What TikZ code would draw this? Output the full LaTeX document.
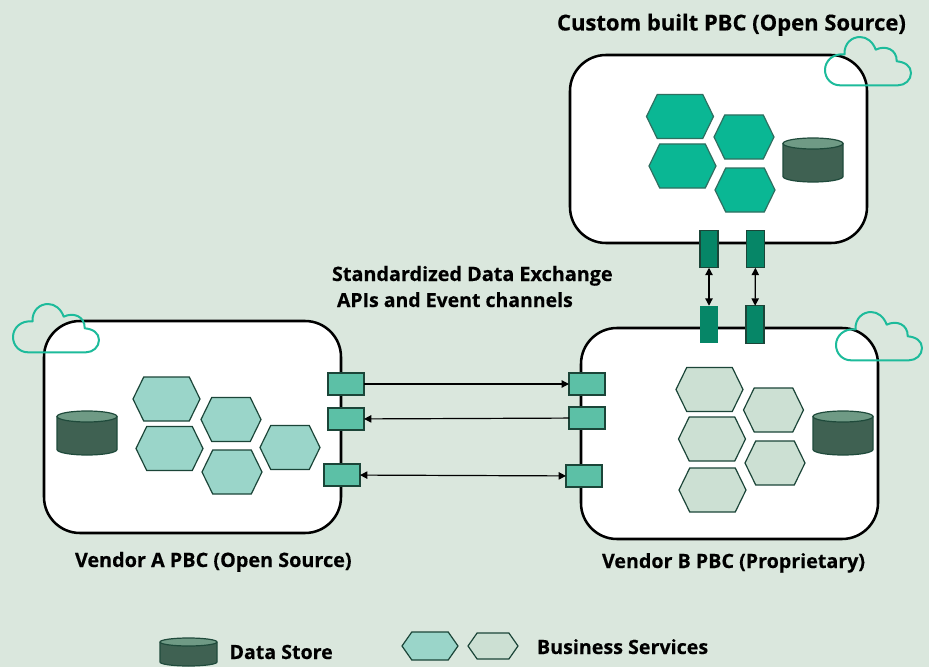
\documentclass[tikz,border=0pt]{standalone}
\usepackage{fontspec}
\setmainfont{Open Sans}[BoldFeatures={FakeBold=0.35}]
\usetikzlibrary{shapes.symbols,arrows.meta}
\definecolor{bgc}{HTML}{DAE7DD}
\definecolor{hexA}{HTML}{0AB794}
\definecolor{hexB}{HTML}{9AD5C9}
\definecolor{hexC}{HTML}{CCE0D3}
\definecolor{edgeA}{HTML}{2F6F60}
\definecolor{edgeB}{HTML}{1B4538}
\definecolor{cylbody}{HTML}{3F6152}
\definecolor{cyltop}{HTML}{6F9A85}
\definecolor{cyledge}{HTML}{1F4A3B}
\definecolor{portL}{HTML}{5CC0A6}
\definecolor{portD}{HTML}{068667}
\definecolor{cloudc}{HTML}{1DBB9B}
\tikzset{
 x=0.75pt,y=-0.75pt,
 pbc/.style={draw=black,fill=white,line width=1.9pt,rounded corners=27pt,inner sep=0pt,outer sep=0pt,anchor=north west},
 hexnode/.style={shape=signal,signal to=east and west,signal pointer angle=128,inner sep=0pt,outer sep=0pt,line width=0.9pt},
 hexteal/.style={hexnode,fill=hexA,draw=edgeA},
 hexmid/.style={hexnode,fill=hexB,draw=edgeB},
 hexpale/.style={hexnode,fill=hexC,draw=edgeB},
 port/.style={shape=rectangle,fill=portL,draw=edgeB,line width=0.9pt,inner sep=0pt,outer sep=0pt,minimum width=36*0.75pt,minimum height=22*0.75pt},
 tallport/.style={shape=rectangle,fill=portD,draw=edgeB,line width=0.9pt,inner sep=0pt,outer sep=0pt,minimum width=18*0.75pt,minimum height=37.5*0.75pt},
 link/.style={draw=black,line width=0.9pt},
 tip/.tip={Triangle[length=5.5pt,width=5.5pt]},
 lbl/.style={font=\bfseries\fontsize{14.8pt}{17pt}\selectfont,text=black,inner sep=0pt,outer sep=0pt,anchor=base west},
 cyl/.style={draw=cyledge,line width=0.9pt,line join=round},
 cloudline/.style={draw=cloudc,line width=1.5pt,line join=round}
}
\newcommand{\boxat}[5]{\node[pbc,minimum width=#4*0.75pt,minimum height=#5*0.75pt] (#1) at (#2,#3) {};}
\newcommand{\hx}[6]{\node[#1,minimum width=#4*0.75pt,minimum height=#5*0.75pt] (#6) at (#2,#3) {};}
% name, centre x, centre y, half width, half height, end radius
\newcommand{\dbat}[6]{%
 \node[inner sep=0pt,outer sep=0pt,minimum width=2*#4*0.75pt,minimum height=2*#5*0.75pt] (#1) at (#2,#3) {};
 \begin{scope}[shift={(#2,#3)}]
 \draw[cyl,fill=cylbody] (-#4,-#5+#6) -- (-#4,#5-#6) arc[start angle=180,end angle=360,x radius=#4,y radius=-#6] -- (#4,-#5+#6) -- cycle;
 \draw[cyl,fill=cyltop] (0,-#5+#6) ellipse[x radius=#4,y radius=#6];
 \end{scope}}
\newcommand{\cloudat}[2]{\draw[cloudline,shift={(#1,#2)}] (19.5,17.5) .. controls (19,6) and (27,0) .. (35,0) .. controls (42,0) and (48,5) .. (50.7,12.7) .. controls (60,8) and (72,12) .. (71.7,24.3) .. controls (80,25) and (86,29) .. (86,36) .. controls (86,43) and (80,48.3) .. (73,48.3) -- (15,48.3) .. controls (6,48.3) and (0,41) .. (0,33) .. controls (0,24) and (8,16) .. (19.5,17.5) -- cycle;}
\begin{document}
\begin{tikzpicture}
\useasboundingbox (0,0) rectangle (929,667);
\fill[bgc] (0,0) rectangle (929,667);
% boxes
\boxat{custom}{570}{55}{297}{188}
\boxat{vendorA}{44}{321}{297}{212}
\boxat{vendorB}{581}{328}{297}{211}
% custom hexes
\hx{hexteal}{680}{116.5}{67}{44}{c1}
\hx{hexteal}{744}{137}{60}{44}{c2}
\hx{hexteal}{682.5}{166}{67}{44}{c3}
\hx{hexteal}{745}{190}{60}{44}{c4}
\dbat{cdb}{813}{160}{30}{22}{5.5}
% vendor A hexes
\hx{hexmid}{166.5}{399}{67}{44}{a1}
\hx{hexmid}{231}{419.5}{60}{44}{a2}
\hx{hexmid}{169.5}{448.5}{67}{44}{a3}
\hx{hexmid}{232}{472}{60}{44}{a4}
\hx{hexmid}{290}{447.5}{60}{44}{a5}
\dbat{adb}{87}{433}{30}{22}{5.5}
% vendor B hexes
\hx{hexpale}{709.5}{389.5}{67}{44}{b1}
\hx{hexpale}{773.5}{410}{60}{44}{b2}
\hx{hexpale}{712}{439}{67}{44}{b3}
\hx{hexpale}{775}{463}{60}{44}{b4}
\hx{hexpale}{712.5}{490}{67}{44}{b5}
\dbat{bdb}{843}{433}{30}{22}{5.5}
% clouds
\cloudat{825}{37}
\cloudat{13}{304}
\cloudat{836}{312}
% ports
\node[port] (pa1) at (346,384) {};
\node[port] (pa2) at (346,419) {};
\node[port] (pa3) at (342,475) {};
\node[port] (pb1) at (587,384) {};
\node[port] (pb2) at (587,418) {};
\node[port] (pb3) at (584,476) {};
\node[tallport] (pc1) at (709,249) {};
\node[tallport] (pc2) at (755.5,249) {};
\node[tallport,draw=none] (pd1) at (709,324.5) {};
\node[tallport] (pd2) at (755,324.5) {};
% links
\draw[link,-tip] (pa1) -- (pb1);
\draw[link,-tip] (pb2) -- (pa2);
\draw[link,tip-tip] (pa3) -- (pb3);
\draw[link,tip-tip] (pc1) -- (pd1);
\draw[link,tip-tip] (pc2) -- (pd2);
% labels
\node[lbl,font=\bfseries\fontsize{16.5pt}{19pt}\selectfont] (t1) at (557,30.5) {Custom built PBC (Open Source)};
\node[lbl,font=\bfseries\fontsize{14.85pt}{17pt}\selectfont] (t2) at (332,281) {Standardized Data Exchange};
\node[lbl,font=\bfseries\fontsize{14.6pt}{17pt}\selectfont] (t3) at (337,307) {APIs and Event channels};
\node[lbl,font=\bfseries\fontsize{14.85pt}{17pt}\selectfont] (t4) at (75,567) {Vendor A PBC (Open Source)};
\node[lbl,font=\bfseries\fontsize{14.75pt}{17pt}\selectfont] (t5) at (602,568) {Vendor B PBC (Proprietary)};
% legend
\dbat{ldb}{188.5}{652}{28.5}{14}{4}
\node[lbl,font=\bfseries\fontsize{14.7pt}{17pt}\selectfont] (t6) at (229.5,659) {Data Store};
\node[hexnode,fill=hexB,draw=edgeB,signal pointer angle=110,minimum width=56*0.75pt,minimum height=28*0.75pt] (l1) at (430,646) {};
\node[hexnode,fill=hexC,draw=edgeB,signal pointer angle=110,minimum width=50*0.75pt,minimum height=26*0.75pt] (l2) at (493,646) {};
\node[lbl,font=\bfseries\fontsize{14.75pt}{17pt}\selectfont] (t7) at (537,654) {Business Services};
\end{tikzpicture}
\end{document}
